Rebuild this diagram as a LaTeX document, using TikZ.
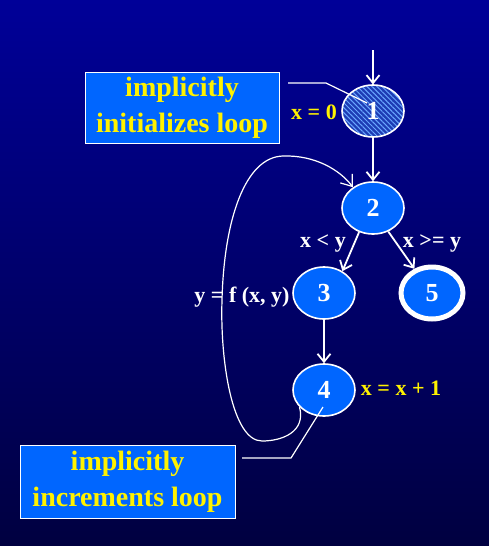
\documentclass[tikz,border=0pt]{standalone}
\usepackage{fontspec}
\setmainfont{Liberation Serif}
\usetikzlibrary{shapes.geometric,arrows.meta,patterns.meta}

\definecolor{SlideTop}{HTML}{000098}
\definecolor{SlideBottom}{HTML}{000040}
\definecolor{BoxBlue}{HTML}{0066FF}
\definecolor{HatchBlue}{HTML}{1E3CB4}
\definecolor{HatchLine}{HTML}{6AA8FF}

\begin{document}
\begin{tikzpicture}[x=1pt, y=-1pt,
                every node/.style={font=\bfseries},
                block/.style={ellipse, draw=white, line width=1.6pt, fill=BoxBlue, minimum width=62pt, minimum height=52pt, inner sep=0pt, text=white, font=\bfseries\fontsize{26}{30}\selectfont},
                note/.style={draw=white, line width=1pt, fill=BoxBlue, text=yellow, align=center, inner sep=0pt, font=\bfseries\fontsize{28}{36}\selectfont},
                cond/.style={text=white, anchor=base, font=\bfseries\fontsize{22}{26}\selectfont},
                assign/.style={text=yellow, anchor=base, font=\bfseries\fontsize{22}{26}\selectfont},
                flow/.style={draw=white, line width=1.8pt, -{Straight Barb[length=8pt,width=13pt]}},
                callout/.style={draw=white, line width=1.2pt}]

                % Background
                \shade[top color=SlideTop, bottom color=SlideBottom] (0,0) rectangle (489,546);
                \useasboundingbox (0,0) rectangle (489,546);

                % Blocks
                \node[block, pattern={Lines[angle=-45,distance=3.5pt,line width=1pt]}, pattern color=HatchLine, preaction={fill=HatchBlue}] (n1) at (373,111) {1};
                \node[block] (n2) at (373,208) {2};
                \node[block] (n3) at (324,293) {3};
                \node[block, line width=5pt] (n5) at (432,293) {5};
                \node[block] (n4) at (324,390) {4};

                % Notes
                \node[note, minimum width=194pt, minimum height=71pt] (init) at (182,107.5) {implicitly\\initializes loop};
                \node[note, minimum width=215pt, minimum height=73pt] (incr) at (127.5,481.5) {implicitly\\increments loop};

                % Labels
                \node[assign] (x0) at (314,119) {x = 0};
                \node[cond] (lt) at (323,247) {x < y};
                \node[cond] (ge) at (432,247) {x >= y};
                \node[cond] (fy) at (242,302) {y = f (x, y)};
                \node[assign] (inc) at (401,395) {x = x + 1};

                % Edges
                \coordinate (entry) at (373,50);
                \draw[flow] (entry) -- (n1);
                \draw[flow] (n1) -- (n2);
                \draw[flow] (n2.240) -- (n3.50);
                \draw[flow] (n2.303) -- (n5.126);
                \draw[flow] (n3) -- (n4);
                \draw[flow, line width=1.2pt, -{Straight Barb[length=10pt,width=15pt]}] (n4.215) .. controls (306,432) and (282,441) .. (262,441)
                      .. controls (232,441) and (220,360) .. (222,300)
                      .. controls (224,220) and (245,157) .. (283,156)
                      .. controls (315,155) and (340,170) .. (n2.134);

                % Callouts
                \coordinate (c1) at (288,83);
                \coordinate (c1end) at (367,103);
                \draw[callout] (c1) -- (326,83) -- (c1end);
                \coordinate (c2) at (242,458);
                \coordinate (c2end) at (323,407);
                \draw[callout] (c2) -- (291,458) -- (c2end);
            \end{tikzpicture}
\end{document}
